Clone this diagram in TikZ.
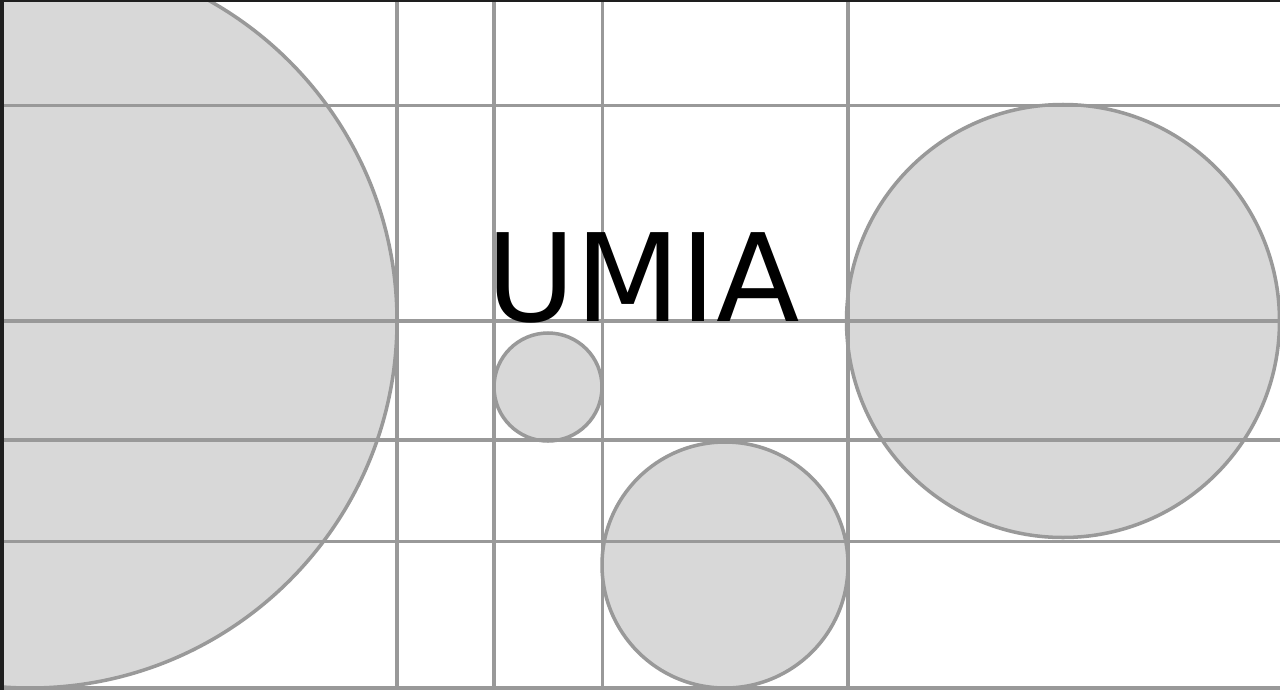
\documentclass[tikz,border=0pt]{standalone}
\usepackage{fontspec}
\newfontfamily\logofont{DejaVu Sans}
\definecolor{gridgray}{HTML}{999999}
\definecolor{discfill}{HTML}{D8D8D8}
\definecolor{frame}{HTML}{1E1E1E}
\begin{document}
\begin{tikzpicture}[x=0.02cm,y=-0.02cm,
  disc/.style={fill=discfill,draw=gridgray,line width=2pt},
  rule/.style={draw=gridgray,line width=2pt}]
  \useasboundingbox (0,0) rectangle (1280,690);
  \fill[frame] (0,0) rectangle (1280,690);
  \fill[white] (4,2) rectangle (1280,690);
  \begin{scope}
    \clip (4,2) rectangle (1280,690);
    % circles
    \draw[disc] (30,321) circle (367);
    \draw[disc] (1063,321) circle (216.5);
    \draw[disc] (548,387) circle (54);
    \draw[disc] (725,565) circle (123);
    % grid
    \foreach \gy in {105.5,321,440,541.5,688}
      \draw[rule] (4,\gy) -- (1280,\gy);
    \foreach \gx in {397,494,602.5,848}
      \draw[rule] (\gx,2) -- (\gx,690);
  \end{scope}
  \node[anchor=base west,inner sep=0pt,font=\logofont\fontsize{69.4}{80}\selectfont]
    (logo) at (486,321) {UMIA};
\end{tikzpicture}
\end{document}
